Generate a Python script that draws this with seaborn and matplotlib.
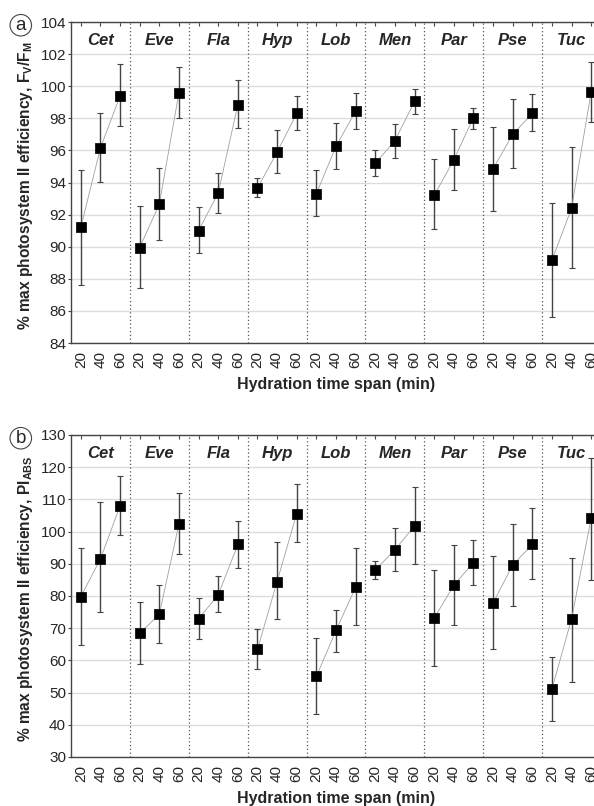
import numpy as np
import pandas as pd
import matplotlib
matplotlib.use("Agg")
import matplotlib.pyplot as plt
import seaborn as sns

# species and hydration times (min)
SPECIES = ["Cet", "Eve", "Fla", "Hyp", "Lob", "Men", "Par", "Pse", "Tuc"]
TIMES = [20, 40, 60]

# panel a: Fv/Fm, % of max (mean, lower and upper end of error bar)
FV_MEAN = [[91.2, 96.15, 99.4], [89.95, 92.65, 99.6], [91.0, 93.35, 98.85],
           [93.65, 95.9, 98.3], [93.3, 96.25, 98.45], [95.2, 96.6, 99.05],
           [93.2, 95.4, 98.05], [94.85, 97.0, 98.3], [89.15, 92.4, 99.65]]
FV_LOW = [[87.6, 94.05, 97.5], [87.4, 90.4, 98.0], [89.6, 92.1, 97.4],
          [93.1, 94.6, 97.25], [91.9, 94.85, 97.35], [94.4, 95.55, 98.25],
          [91.1, 93.55, 97.35], [92.25, 94.9, 97.2], [85.6, 88.7, 97.8]]
FV_HIGH = [[94.8, 98.3, 101.4], [92.55, 94.9, 101.2], [92.5, 94.6, 100.4],
           [94.3, 97.25, 99.4], [94.8, 97.7, 99.6], [96.0, 97.65, 99.85],
           [95.45, 97.35, 98.65], [97.45, 99.2, 99.5], [92.7, 96.2, 101.5]]

# panel b: PI_ABS, % of max
PI_MEAN = [[79.8, 91.5, 108.0], [68.4, 74.3, 102.4], [73.0, 80.3, 96.0],
           [63.4, 84.5, 105.6], [55.0, 69.3, 82.7], [88.0, 94.4, 101.7],
           [73.1, 83.3, 90.4], [77.8, 89.6, 96.0], [51.1, 72.9, 104.2]]
PI_LOW = [[64.9, 74.9, 99.0], [58.8, 65.4, 93.0], [66.7, 75.0, 88.6],
          [57.2, 72.8, 96.8], [43.3, 62.6, 71.1], [85.2, 87.9, 89.8],
          [58.4, 71.1, 83.3], [63.6, 77.0, 85.2], [41.1, 53.3, 85.1]]
PI_HIGH = [[95.0, 109.1, 117.2], [78.2, 83.5, 111.9], [79.4, 86.2, 103.3],
           [69.9, 96.7, 114.8], [67.1, 75.7, 94.8], [90.8, 101.1, 113.9],
           [88.0, 95.8, 97.5], [92.4, 102.3, 107.2], [61.2, 91.9, 123.0]]


def build_frame(mean, low, high):
    rows = []
    for g, sp in enumerate(SPECIES):
        for t, tm in enumerate(TIMES):
            rows.append({"species": sp, "time": tm, "pos": g * 3 + t + 0.5,
                         "mean": mean[g][t], "low": low[g][t], "high": high[g][t]})
    return pd.DataFrame(rows)


def draw_panel(fig, rect, df, ylim, ystep, ylabel, letter):
    ax = fig.add_axes(rect)
    ax.set_xlim(0, len(SPECIES) * 3)
    ax.set_ylim(*ylim)
    ax.set_yticks(np.arange(ylim[0], ylim[1] + 0.1, ystep))
    ax.yaxis.grid(True, color="#dcdcdc", lw=1.0, zorder=0)
    ax.set_axisbelow(True)

    # dotted dividers between species
    for g in range(1, len(SPECIES)):
        ax.axvline(g * 3, color="#555555", ls=(0, (1, 2)), lw=0.9, zorder=1)

    ax.errorbar(df["pos"], df["mean"],
                yerr=[df["mean"] - df["low"], df["high"] - df["mean"]],
                fmt="none", ecolor="#444444", elinewidth=1.0, capsize=2,
                capthick=0.8, zorder=2)
    sns.lineplot(data=df, x="pos", y="mean", units="species", estimator=None,
                 color="#a0a0a0", lw=0.6, ax=ax, zorder=3, legend=False)
    sns.scatterplot(data=df, x="pos", y="mean", marker="s", s=42, color="black",
                    edgecolor="black", ax=ax, zorder=4, legend=False)

    for g, sp in enumerate(SPECIES):
        ax.text(g * 3 + 1.5, 0.943, sp, transform=ax.get_xaxis_transform(),
                ha="center", va="center", fontsize=12, fontweight="bold",
                fontstyle="italic")

    ax.set_xticks(df["pos"])
    ax.set_xticklabels([str(t) for t in df["time"]], rotation=90, fontsize=11)
    ax.tick_params(axis="x", direction="out", length=2.5, width=0.8,
                   color="#444444", pad=3)
    ax.tick_params(axis="y", direction="out", left=True, length=2.5,
                   width=0.8, color="#444444", labelsize=11, pad=1)
    top = ax.secondary_xaxis("top")
    top.set_xticks(df["pos"])
    top.tick_params(direction="in", length=3, width=0.8, color="#444444",
                    labeltop=False)
    top.spines["top"].set_visible(False)

    for side in ["left", "bottom", "top"]:
        ax.spines[side].set_color("#444444")
        ax.spines[side].set_linewidth(1.0)
    ax.spines["right"].set_visible(False)

    ax.set_xlabel("Hydration time span (min)", fontsize=11.5, fontweight="bold",
                  labelpad=7)
    ax.set_ylabel(ylabel, fontsize=11.2, fontweight="bold")
    ax.yaxis.set_label_coords(-0.068, 0.49)

    fig.text(0.035, rect[1] + rect[3] - 0.004, letter, fontsize=13.5,
             ha="center", va="center",
             bbox=dict(boxstyle="circle,pad=0.12", fc="white", ec="#444444",
                       lw=0.8))
    return ax


sns.set_theme(style="white")
plt.rcParams["font.family"] = ["Liberation Sans", "DejaVu Sans"]
plt.rcParams["mathtext.fontset"] = "custom"
plt.rcParams["mathtext.rm"] = "Liberation Sans"
plt.rcParams["mathtext.bf"] = "Liberation Sans:bold"

fig = plt.figure(figsize=(5.94, 8.06), dpi=100)

df_fv = build_frame(FV_MEAN, FV_LOW, FV_HIGH)
df_pi = build_frame(PI_MEAN, PI_LOW, PI_HIGH)

draw_panel(fig, [0.1195, 0.5744, 0.8923, 0.3983], df_fv, (84, 104), 2,
           r"% max photosystem II efficiency, F$_\mathbf{V}$/F$_\mathbf{M}$", "a")
draw_panel(fig, [0.1195, 0.0608, 0.8923, 0.3995], df_pi, (30, 130), 10,
           r"% max photosystem II efficiency, PI$_\mathbf{ABS}$", "b")

fig.savefig("out.png", dpi=100)
